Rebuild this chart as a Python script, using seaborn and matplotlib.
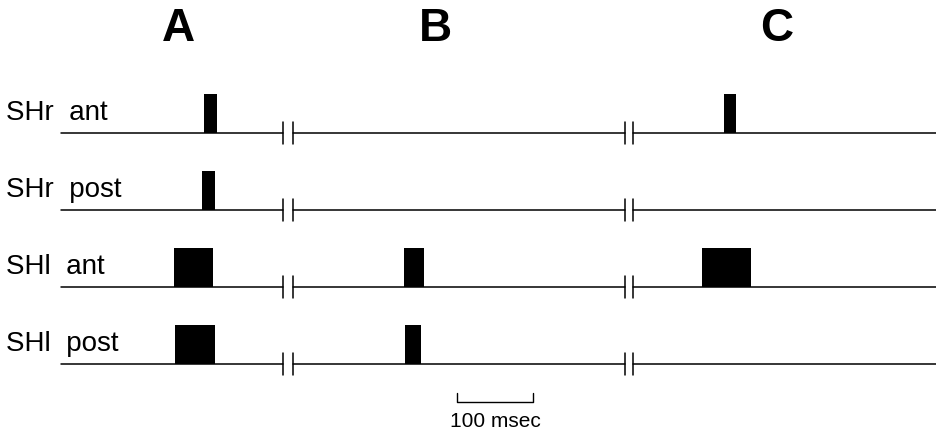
import matplotlib.pyplot as plt
import seaborn as sns

# time axis in msec, 0 = left end of the traces
rows = ["SHr  ant", "SHr  post", "SHl  ant", "SHl  post"]
panels = ["A", "B", "C"]
panel_start = [0, 305, 753]
panel_end = [292, 742, 1151]
panel_title_x = [154, 492, 942]

# bursts per row: (onset, duration) in msec
bursts = [
    [(188, 17), (872, 16)],
    [(186, 16)],
    [(149, 51), (451, 27), (843, 64)],
    [(150, 53), (453, 21)],
]
burst_height = 0.5
scale_bar = (521, 100)  # start, length in msec
scale_label = "100 msec"

sns.set_theme(style="white")
plt.rcParams["font.family"] = ["Liberation Sans", "DejaVu Sans"]
plt.rcParams["text.color"] = "black"

fig = plt.figure(figsize=(9.36, 4.35), dpi=100)
ax = fig.add_axes([0, 0, 1, 1])

for i, name in enumerate(rows):
    # baseline segments with break marks
    for s, e in zip(panel_start, panel_end):
        ax.plot([s, e], [i, i], color="black", lw=1.1)
    for s in panel_start[1:]:
        ax.plot([s, s], [i - 0.14, i + 0.14], color="black", lw=1.1)
    for e in panel_end[:-1]:
        ax.plot([e, e], [i - 0.14, i + 0.14], color="black", lw=1.1)
    for onset, dur in bursts[i]:
        ax.bar(onset, -burst_height, width=dur, bottom=i, align="edge",
               color="black", edgecolor="black", lw=0)
    ax.text(-72, i - 0.27, name, fontsize=20, ha="left", va="center")

for label, x in zip(panels, panel_title_x):
    ax.text(x, -1.36, label, fontsize=33, fontweight="bold",
            ha="center", va="center")

# scale bar
x0, length = scale_bar
ax.plot([x0, x0, x0 + length, x0 + length], [3.38, 3.49, 3.49, 3.38],
        color="black", lw=1)
ax.text(x0 + length / 2, 3.73, scale_label, fontsize=15,
        ha="center", va="center")

ax.set_xlim(-80.3, 1151)
ax.set_ylim(3.91, -1.74)
ax.axis("off")

fig.savefig("out.png", dpi=100)
